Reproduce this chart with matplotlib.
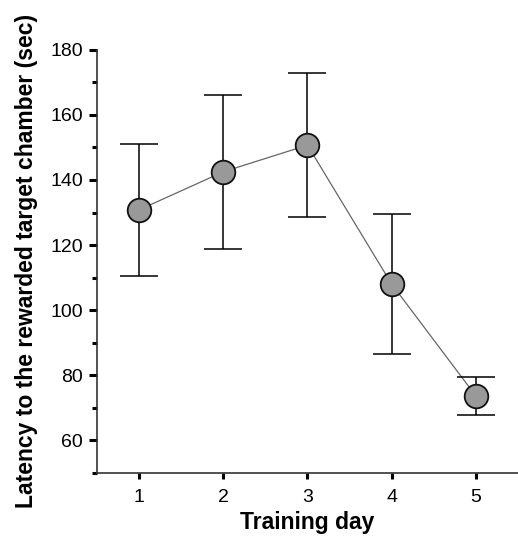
import numpy as np
import matplotlib
matplotlib.use('Agg')
import matplotlib.pyplot as plt

plt.rcParams['font.family'] = ['Liberation Sans', 'DejaVu Sans']

# Data
days = [1, 2, 3, 4, 5]
latency = [130.8, 142.5, 150.7, 108.0, 73.6]
sem = [20.3, 23.7, 22.1, 21.5, 5.7]

fig = plt.figure(figsize=(5.18, 5.36), dpi=100)
ax = fig.add_axes([0.187, 0.118, 0.813, 0.789])

# connecting line
ax.plot(days, latency, c='#666666', lw=0.9, zorder=2)
# error bars
ax.errorbar(days, latency, yerr=sem, fmt='none', ecolor='black', elinewidth=1.1,
            capsize=14, capthick=1.1, zorder=3)
# points
ax.plot(days, latency, ls='none', marker='o', ms=17, mfc='#999999', mec='#111111',
        mew=1.3, zorder=4)

ax.set_xlim(0.5, 5.5)
ax.set_ylim(50, 180)
ax.set_xticks(days)
ax.set_yticks([60, 80, 100, 120, 140, 160, 180])
ax.set_yticks([50, 70, 90, 110, 130, 150, 170], minor=True)

for s in ['top', 'right']:
    ax.spines[s].set_visible(False)
for s in ['left', 'bottom']:
    ax.spines[s].set_color('#333333')
    ax.spines[s].set_linewidth(1.2)

ax.tick_params(axis='y', which='major', length=6, width=2.2, labelsize=14, pad=4)
ax.tick_params(axis='y', which='minor', length=3.5, width=2.2)
ax.tick_params(axis='x', which='major', length=4, width=2.2, labelsize=14, pad=8)

ax.set_xlabel('Training day', fontsize=16.5, fontweight='bold', labelpad=3)
ax.set_ylabel('Latency to the rewarded target chamber (sec)', fontsize=16.5,
              fontweight='bold', labelpad=9)

fig.savefig('out.png', dpi=100)
